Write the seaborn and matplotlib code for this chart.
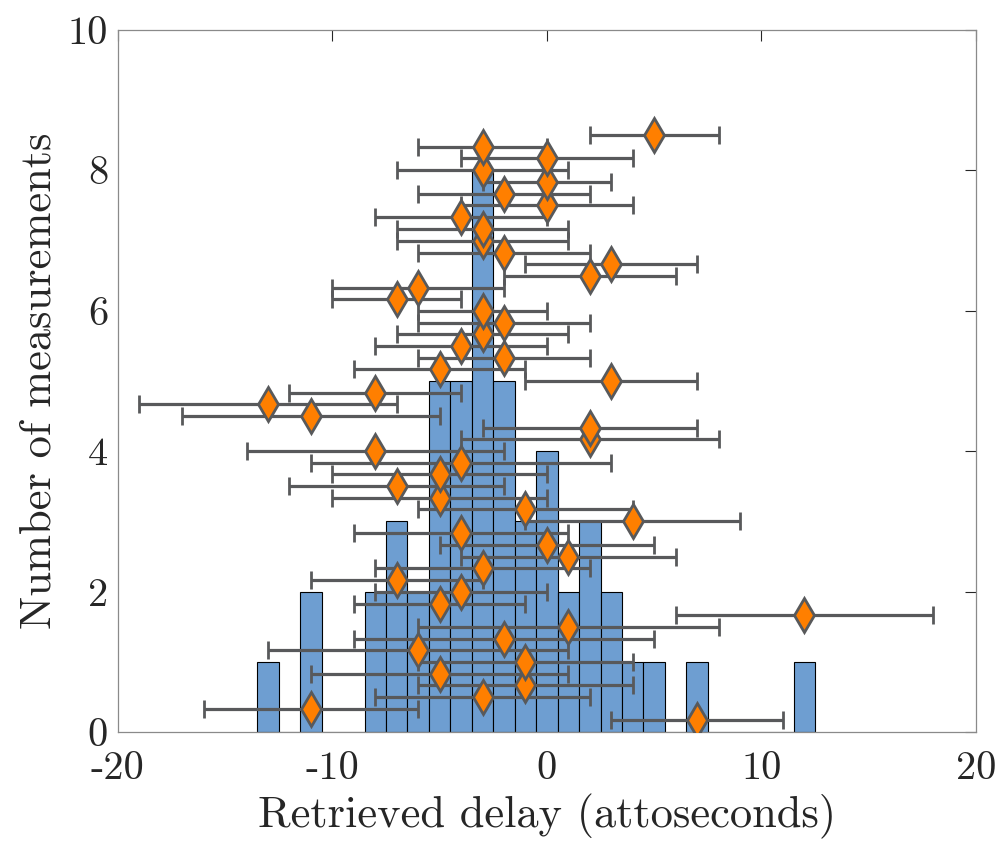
import matplotlib
matplotlib.use("Agg")
import matplotlib.pyplot as plt
import seaborn as sns
import numpy as np
import pandas as pd

# Retrieved delays (attoseconds), one per measurement, bottom to top
delays = [7, -11, -3, -1, -5, -1, -6, -2, 1, 12,
          -5, -4, -7, -3, 1, 0, -4, 4, -1, -5,
          -7, -5, -4, -8, 2, 2, -11, -13, -8, 3,
          -5, -2, -4, -3, -2, -3, -7, -6, 2, 3,
          -2, -3, -3, -4, 0, -2, 0, -3, 0, -3, 5]
# Uncertainty (half-width of error bar), attoseconds
errors = [4, 5, 5, 5, 6, 5, 7, 7, 7, 6,
          4, 4, 4, 5, 5, 5, 5, 5, 5, 5,
          5, 5, 7, 6, 6, 5, 6, 6, 4, 4,
          4, 4, 4, 4, 4, 3, 3, 4, 4, 4,
          4, 4, 4, 4, 4, 4, 3, 4, 4, 3, 3]
# Vertical placement of each measurement marker
heights = [0.17, 0.33, 0.50, 0.67, 0.83, 1.00, 1.17, 1.33, 1.50, 1.67,
           1.83, 2.00, 2.17, 2.33, 2.50, 2.67, 2.83, 3.00, 3.17, 3.33,
           3.50, 3.67, 3.83, 4.00, 4.17, 4.33, 4.50, 4.67, 4.83, 5.00,
           5.17, 5.33, 5.50, 5.67, 5.83, 6.00, 6.17, 6.33, 6.50, 6.67,
           6.83, 7.00, 7.17, 7.33, 7.50, 7.67, 7.83, 8.00, 8.17, 8.33, 8.50]

xticks = [-20, -10, 0, 10, 20]
yticks = [0, 2, 4, 6, 8, 10]

sns.set_style("white")
plt.rcParams['font.family'] = ['cmr10', 'DejaVu Serif']
plt.rcParams['axes.unicode_minus'] = False
plt.rcParams['mathtext.fontset'] = 'cm'

df = pd.DataFrame({"delay": delays, "err": errors, "h": heights})

fig = plt.figure(figsize=(9.98, 8.42), dpi=100)
ax = fig.add_axes([0.118, 0.1306, 0.860, 0.8338])

sns.histplot(data=df, x="delay", binwidth=1, binrange=(-13.5, 12.5),
             color="#6E9ED1", alpha=1.0, edgecolor="black", linewidth=0.8,
             ax=ax, zorder=1)

ax.errorbar(df["delay"], df["h"], xerr=df["err"], fmt='d',
            color="#58595B", ecolor="#58595B", elinewidth=2.3,
            capsize=6.5, capthick=2.3,
            markersize=17, markerfacecolor="#FF7F00",
            markeredgecolor="#58595B", markeredgewidth=2.0, zorder=3)

ax.set_xlim(-20, 20)
ax.set_ylim(0, 10)
ax.set_xticks(xticks)
ax.set_yticks(yticks)
ax.set_xticklabels([str(t) for t in xticks])
ax.set_yticklabels([str(t) for t in yticks])

ax.set_xlabel("Retrieved delay (attoseconds)", fontsize=32, color="#262626", labelpad=5)
ax.set_ylabel("Number of measurements", fontsize=32, color="#262626", labelpad=6)
ax.tick_params(axis='both', which='major', direction='in', length=8, width=0.8,
               labelsize=29, colors="#262626", top=True, right=True)
ax.tick_params(axis='x', pad=14)
ax.tick_params(axis='y', pad=7)
for s in ax.spines.values():
    s.set_color("#8a8a8a")
    s.set_linewidth(0.9)
    s.set_visible(True)

fig.savefig("out.png", dpi=100)
